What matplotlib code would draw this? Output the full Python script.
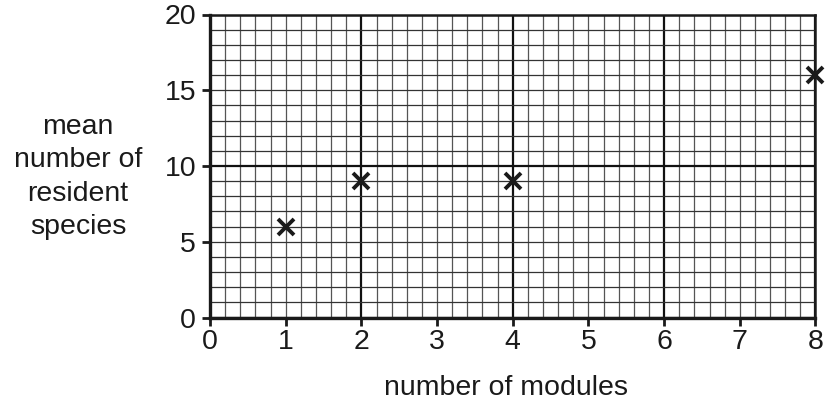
import matplotlib
matplotlib.use("Agg")
import matplotlib.pyplot as plt
import numpy as np

modules = [1, 2, 4, 8]
species = [6, 9, 9, 16]
x_ticks = [0, 1, 2, 3, 4, 5, 6, 7, 8]
y_ticks = [0, 5, 10, 15, 20]

plt.rcParams['font.family'] = ['Liberation Sans', 'DejaVu Sans']
FS = 20.5
INK = '#1a1a1a'

fig = plt.figure(figsize=(8.25, 4.07), dpi=100)
ax = fig.add_axes([210/825, 1-317.5/407, 605.5/825, 303/407])
ax.set_xlim(0, 8)
ax.set_ylim(0, 20)

# graph-paper grid
for xv in np.arange(0, 8.01, 0.2):
    major = abs(xv/2 - round(xv/2)) < 1e-6
    ax.axvline(xv, color='#111111' if major else '#555555',
               lw=1.6 if major else 0.9, zorder=1)
for yv in range(0, 21):
    major = yv % 10 == 0
    ax.axhline(yv, color='#111111' if major else '#333333',
               lw=1.6 if major else 0.9, zorder=1)

ax.plot(modules, species, linestyle='none', marker='x', markersize=11.5,
        markeredgewidth=2.8, color=INK, clip_on=False, zorder=5)

ax.set_xticks(x_ticks)
ax.set_yticks(y_ticks)
ax.tick_params(axis='both', direction='out', length=6, width=2,
               labelsize=FS, color=INK, labelcolor=INK)
ax.tick_params(axis='x', pad=2)
ax.tick_params(axis='y', pad=4)

for side in ['left', 'bottom']:
    ax.spines[side].set_linewidth(2.4)
    ax.spines[side].set_color(INK)
for side in ['top', 'right']:
    ax.spines[side].set_linewidth(1.8)
    ax.spines[side].set_color(INK)

fig.text(78/825, 1-177/407, "mean\nnumber of\nresident\nspecies",
         ha='center', va='center', multialignment='center',
         fontsize=FS, color=INK, linespacing=1.37)
fig.text(506/825, 1-395/407, "number of modules", ha='center', va='baseline',
         fontsize=FS, color=INK)

fig.savefig("out.png", dpi=100)
